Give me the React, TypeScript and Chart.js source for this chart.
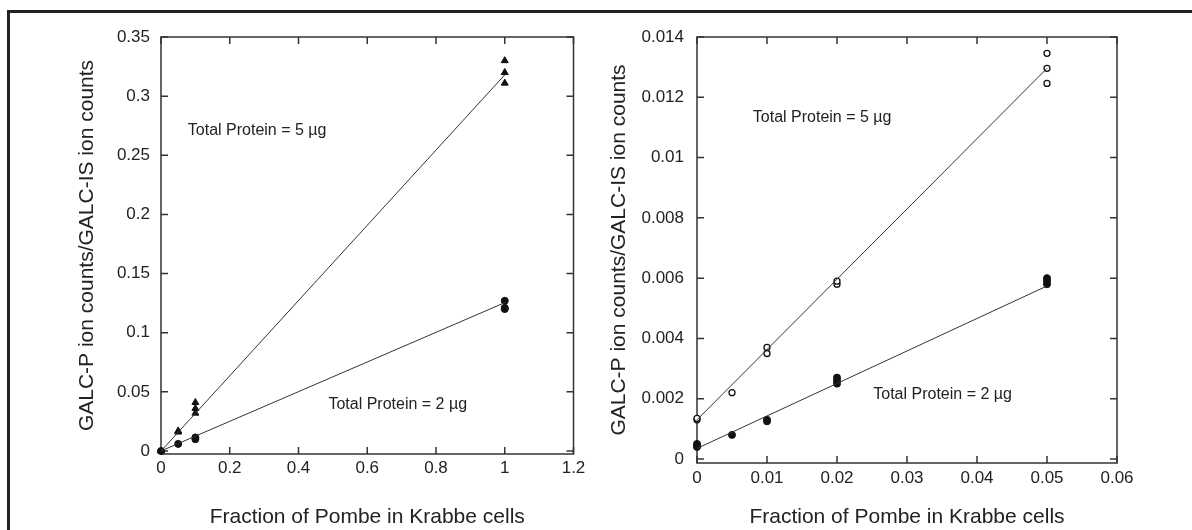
import React, { useEffect, useRef } from "react";
import { Chart, registerables } from "chart.js";

Chart.register(...registerables);

// ---------- Left panel data ----------
const leftXTicks = [0, 0.2, 0.4, 0.6, 0.8, 1, 1.2];
const leftXTickLabels = ["0", "0.2", "0.4", "0.6", "0.8", "1", "1.2"];
const leftYTicks = [0, 0.05, 0.1, 0.15, 0.2, 0.25, 0.3, 0.35];
const leftYTickLabels = ["0", "0.05", "0.1", "0.15", "0.2", "0.25", "0.3", "0.35"];

const left5X = [0, 0.05, 0.05, 0.1, 0.1, 0.1, 1, 1, 1];
const left5Y = [0, 0.016, 0.017, 0.032, 0.036, 0.041, 0.33, 0.32, 0.311];
const left2X = [0, 0.05, 0.1, 0.1, 1, 1, 1];
const left2Y = [0, 0.006, 0.01, 0.0115, 0.127, 0.121, 0.12];

const left5FitX = [0, 1];
const left5FitY = [0, 0.318];
const left2FitX = [0, 1];
const left2FitY = [0, 0.1254];

const leftNoteText = ["Total Protein = 5 \u00b5g", "Total Protein = 2 \u00b5g"];
const leftNoteX = [0.078, 0.487];
const leftNoteY = [0.2708, 0.039];

// ---------- Right panel data ----------
const rightXTicks = [0, 0.01, 0.02, 0.03, 0.04, 0.05, 0.06];
const rightXTickLabels = ["0", "0.01", "0.02", "0.03", "0.04", "0.05", "0.06"];
const rightYTicks = [0, 0.002, 0.004, 0.006, 0.008, 0.01, 0.012, 0.014];
const rightYTickLabels = ["0", "0.002", "0.004", "0.006", "0.008", "0.01", "0.012", "0.014"];

const right5X = [0, 0, 0.005, 0.01, 0.01, 0.02, 0.02, 0.05, 0.05, 0.05];
const right5Y = [0.0013, 0.00135, 0.0022, 0.0035, 0.0037, 0.0058, 0.0059, 0.01346, 0.01296, 0.01246];
const right2X = [0, 0, 0, 0.005, 0.01, 0.01, 0.02, 0.02, 0.02, 0.05, 0.05, 0.05];
const right2Y = [0.0004, 0.00045, 0.0005, 0.0008, 0.00125, 0.0013, 0.0025, 0.0026, 0.0027, 0.0058, 0.0059, 0.006];

const right5FitX = [0, 0.05];
const right5FitY = [0.0013, 0.01296];
const right2FitX = [0, 0.05];
const right2FitY = [0.00035, 0.00574];

const rightNoteText = ["Total Protein = 5 \u00b5g", "Total Protein = 2 \u00b5g"];
const rightNoteX = [0.00797, 0.02518];
const rightNoteY = [0.01131, 0.00212];

const xTitle = "Fraction of Pombe in Krabbe cells";
const yTitle = "GALC-P ion counts/GALC-IS ion counts";

const FONT = "'Liberation Sans', Arial, Helvetica, sans-serif";
const INK = "#222";

const zip = (xs: number[], ys: number[]) => xs.map((x, i) => ({ x, y: ys[i] }));

const framePlugin = {
  id: "frameTicks",
  beforeDatasetsDraw(chart: any) {
    const { ctx, chartArea: a, scales } = chart;
    const x = scales.x;
    const y = scales.y;
    const L = 7;
    ctx.save();
    ctx.strokeStyle = "#333";
    ctx.lineWidth = 1.5;
    ctx.strokeRect(a.left, a.top, a.right - a.left, a.bottom - a.top);
    ctx.beginPath();
    x.ticks.forEach((t: any) => {
      const px = x.getPixelForValue(t.value);
      ctx.moveTo(px, a.bottom);
      ctx.lineTo(px, a.bottom - L);
      ctx.moveTo(px, a.top);
      ctx.lineTo(px, a.top + L);
    });
    y.ticks.forEach((t: any) => {
      const py = y.getPixelForValue(t.value);
      ctx.moveTo(a.left, py);
      ctx.lineTo(a.left + L, py);
      ctx.moveTo(a.right, py);
      ctx.lineTo(a.right - L, py);
    });
    ctx.stroke();
    ctx.restore();
  },
  afterDraw(chart: any, _args: any, opts: any) {
    const { ctx, scales } = chart;
    const notes = opts.notes || [];
    ctx.save();
    ctx.fillStyle = INK;
    ctx.font = `16px ${FONT}`;
    ctx.textAlign = "left";
    ctx.textBaseline = "middle";
    notes.forEach((n: any) => {
      ctx.fillText(n.text, scales.x.getPixelForValue(n.x), scales.y.getPixelForValue(n.y));
    });
    ctx.restore();
  },
};

type PanelProps = {
  xTicks: number[];
  xTickLabels: string[];
  yTicks: number[];
  yTickLabels: string[];
  xMax: number;
  yMin: number;
  yMax: number;
  s5: { x: number; y: number }[];
  s2: { x: number; y: number }[];
  f5: { x: number; y: number }[];
  f2: { x: number; y: number }[];
  open5: boolean;
  notes: { text: string; x: number; y: number }[];
  padding: { left: number; right: number; top: number; bottom: number };
  yWidth: number;
  xHeight: number;
  yTickPad: number;
  xTickPad: number;
  yTitlePad: number;
};

function Panel(p: PanelProps) {
  const ref = useRef<HTMLCanvasElement | null>(null);
  useEffect(() => {
    if (!ref.current) return;
    const chart = new Chart(ref.current, {
      type: "scatter",
      data: {
        datasets: [
          {
            type: "line",
            data: p.f5,
            borderColor: "#333",
            borderWidth: 1,
            pointRadius: 0,
            fill: false,
            clip: false,
          } as any,
          {
            type: "line",
            data: p.f2,
            borderColor: "#333",
            borderWidth: 1,
            pointRadius: 0,
            fill: false,
            clip: false,
          } as any,
          {
            data: p.s5,
            clip: false,
            pointStyle: p.open5 ? "circle" : "triangle",
            pointRadius: p.open5 ? 3 : 4,
            pointBackgroundColor: p.open5 ? "#fff" : "#111",
            pointBorderColor: "#111",
            pointBorderWidth: p.open5 ? 1.3 : 1,
          } as any,
          {
            data: p.s2,
            clip: false,
            pointStyle: "circle",
            pointRadius: 3.5,
            pointBackgroundColor: "#111",
            pointBorderColor: "#111",
            pointBorderWidth: 1,
          } as any,
        ],
      },
      options: {
        animation: false,
        responsive: false,
        devicePixelRatio: 1,
        layout: { padding: p.padding },
        plugins: {
          legend: { display: false },
          tooltip: { enabled: false },
          frameTicks: { notes: p.notes },
        } as any,
        scales: {
          x: {
            type: "linear",
            min: 0,
            max: p.xMax,
            grid: { display: false, drawTicks: false },
            border: { display: false },
            afterBuildTicks: (s: any) => {
              s.ticks = p.xTicks.map((v) => ({ value: v }));
            },
            afterFit: (s: any) => {
              s.height = p.xHeight;
            },
            ticks: {
              padding: p.xTickPad,
              color: INK,
              font: { family: FONT, size: 17 },
              maxRotation: 0,
              autoSkip: false,
              callback: (_v: any, i: number) => p.xTickLabels[i],
            },
            title: {
              display: true,
              text: xTitle,
              color: INK,
              font: { family: FONT, size: 21 },
              padding: { top: 0, bottom: 0 },
            },
          },
          y: {
            type: "linear",
            min: p.yMin,
            max: p.yMax,
            grid: { display: false, drawTicks: false },
            border: { display: false },
            afterBuildTicks: (s: any) => {
              s.ticks = p.yTicks.map((v) => ({ value: v }));
            },
            afterFit: (s: any) => {
              s.width = p.yWidth;
            },
            ticks: {
              padding: p.yTickPad,
              color: INK,
              font: { family: FONT, size: 17 },
              autoSkip: false,
              callback: (_v: any, i: number) => p.yTickLabels[i],
            },
            title: {
              display: true,
              text: yTitle,
              color: INK,
              font: { family: FONT, size: 21 },
              padding: { top: p.yTitlePad, bottom: 0 },
            },
          },
        },
      },
      plugins: [framePlugin as any],
    });
    return () => chart.destroy();
  }, []);
  return <canvas ref={ref} width={596} height={530} style={{ width: 596, height: 530, display: "block" }} />;
}

export default function App() {
  return (
    <div
      style={{
        position: "absolute",
        left: 0,
        top: 0,
        width: 1192,
        height: 530,
        overflow: "hidden",
        background: "#fff",
      }}
    >
      <div
        style={{
          position: "absolute",
          left: 7,
          top: 10,
          width: 1400,
          height: 800,
          borderLeft: "3px solid #222",
          borderTop: "3px solid #222",
        }}
      />
      <div style={{ position: "absolute", left: 0, top: 0 }}>
        <Panel
          xTicks={leftXTicks}
          xTickLabels={leftXTickLabels}
          yTicks={leftYTicks}
          yTickLabels={leftYTickLabels}
          xMax={1.2}
          yMin={-0.00254}
          yMax={0.35}
          s5={zip(left5X, left5Y)}
          s2={zip(left2X, left2Y)}
          f5={zip(left5FitX, left5FitY)}
          f2={zip(left2FitX, left2FitY)}
          open5={false}
          notes={leftNoteText.map((t, i) => ({ text: t, x: leftNoteX[i], y: leftNoteY[i] }))}
          padding={{ left: 74, right: 22.5, top: 37, bottom: 0 }}
          yWidth={87}
          xHeight={76}
          yTickPad={11}
          xTickPad={4}
          yTitlePad={1}
        />
      </div>
      <div style={{ position: "absolute", left: 596, top: 0 }}>
        <Panel
          xTicks={rightXTicks}
          xTickLabels={rightXTickLabels}
          yTicks={rightYTicks}
          yTickLabels={rightYTickLabels}
          xMax={0.06}
          yMin={-0.000133}
          yMax={0.014}
          s5={zip(right5X, right5Y)}
          s2={zip(right2X, right2Y)}
          f5={zip(right5FitX, right5FitY)}
          f2={zip(right2FitX, right2FitY)}
          open5={true}
          notes={rightNoteText.map((t, i) => ({ text: t, x: rightNoteX[i], y: rightNoteY[i] }))}
          padding={{ left: 10, right: 75, top: 37, bottom: 0 }}
          yWidth={91}
          xHeight={67}
          yTickPad={13}
          xTickPad={5}
          yTitlePad={0.4}
        />
      </div>
    </div>
  );
}
